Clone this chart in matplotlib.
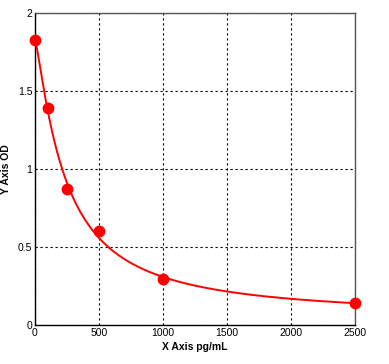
import numpy as np
import matplotlib
matplotlib.use("Agg")
import matplotlib.pyplot as plt

# standard points
conc = np.array([0, 100, 250, 500, 1000, 2500])
od = np.array([1.83, 1.39, 0.87, 0.60, 0.293, 0.139])

x_ticks = [0, 500, 1000, 1500, 2000, 2500]
y_ticks = [0, 0.5, 1, 1.5, 2]
y_tick_labels = ["0", "0.5", "1", "1.5", "2"]


def four_pl(x, p):
    a, b, c, d = p
    return d + (a - d) / (1 + (np.maximum(x, 0) / c) ** b)


def fit_4pl(x, y, p0, n_iter=200):
    # small Gauss-Newton / LM loop, no scipy needed
    p = np.array(p0, dtype=float)
    lam = 1e-3
    for _ in range(n_iter):
        r = y - four_pl(x, p)
        J = np.zeros((len(x), len(p)))
        for k in range(len(p)):
            dp = np.zeros_like(p)
            dp[k] = 1e-6 * max(abs(p[k]), 1)
            J[:, k] = (four_pl(x, p + dp) - four_pl(x, p)) / dp[k]
        A = J.T @ J
        step = np.linalg.solve(A + lam * np.diag(np.diag(A)), J.T @ r)
        p_new = p + step
        if p_new[2] > 0 and np.sum((y - four_pl(x, p_new)) ** 2) < np.sum(r ** 2):
            p = p_new
            lam *= 0.5
        else:
            lam *= 5
    return p


params = fit_4pl(conc, od, [1.83, 1.0, 300.0, 0.0])
xs = np.linspace(0, 2500, 400)

fig = plt.figure(figsize=(3.89, 3.64), dpi=100)
ax = fig.add_axes([35 / 389, 39 / 364, 320 / 389, 312 / 364])

ax.plot(xs, four_pl(xs, params), color="#ff0000", lw=1.4, zorder=3)
ax.plot(conc, od, "o", color="#ff0000", ms=7.5, zorder=4, clip_on=False)

ax.set_xlim(0, 2500)
ax.set_ylim(0, 2)
ax.set_xticks(x_ticks)
ax.set_yticks(y_ticks)
ax.set_yticklabels(y_tick_labels)
ax.tick_params(length=0, labelsize=7.5, pad=2)
for lab in ax.get_xticklabels() + ax.get_yticklabels():
    lab.set_fontfamily("Liberation Sans")
ax.grid(True, color="black", linestyle=(0, (2, 2.5)), linewidth=0.8)

for side in ["left", "bottom"]:
    ax.spines[side].set_color("black")
for side in ["top", "right"]:
    ax.spines[side].set_color("#555555")
for s in ax.spines.values():
    s.set_linewidth(1)

ax.set_xlabel("X Axis pg/mL", fontsize=7.5, fontweight="bold",
              fontfamily="Liberation Sans", labelpad=3)
ax.set_ylabel("Y Axis OD", fontsize=7.5, fontweight="bold",
              fontfamily="Liberation Sans", labelpad=5)

fig.savefig("out.png", dpi=100)
